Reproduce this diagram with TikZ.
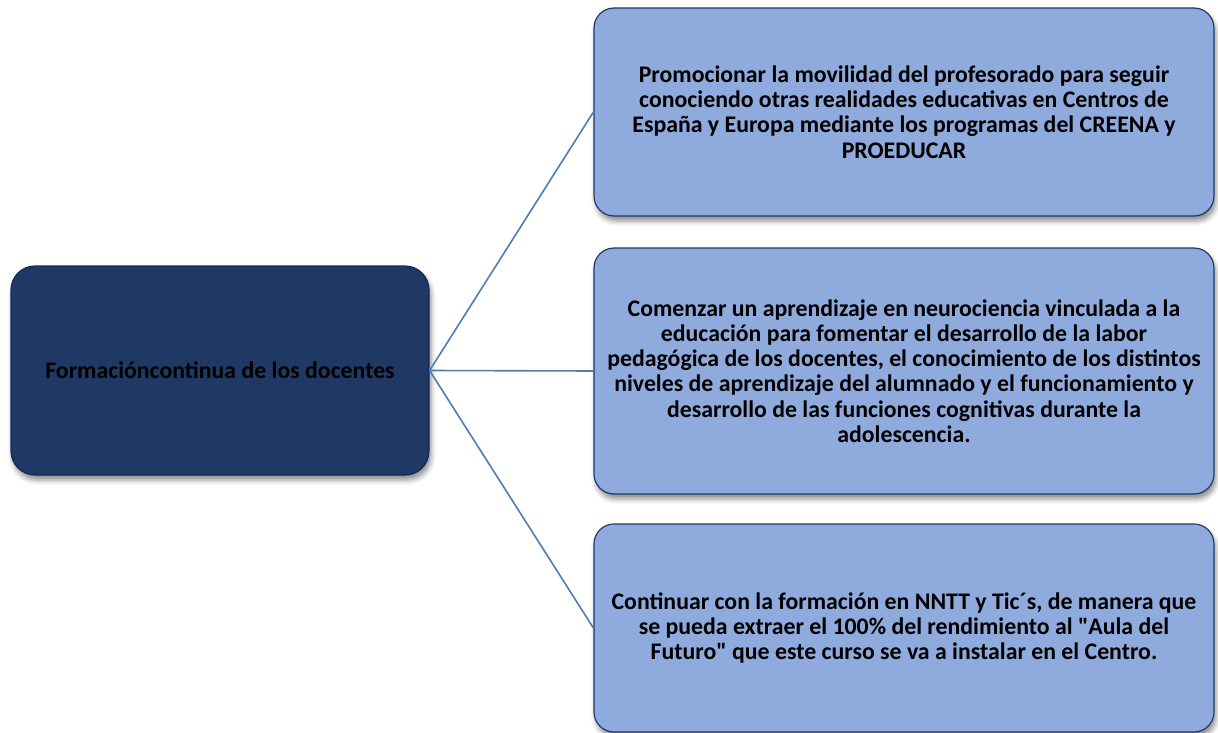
\documentclass[tikz,border=0pt]{standalone}
\usepackage{fontspec}
\setmainfont{Carlito}[Ligatures=TeXOff]
\usetikzlibrary{shadows.blur}
\definecolor{navy}{HTML}{203864}
\definecolor{navyedge}{HTML}{0F2A5A}
\definecolor{lightbox}{HTML}{8FAADC}
\definecolor{boxedge}{HTML}{1F3A6A}
\definecolor{conn}{HTML}{4A7EB5}
\tikzset{
  every node/.style={font=\bfseries\fontsize{23.8}{25.2}\selectfont, align=center, inner sep=0pt},
  mainbox/.style={draw=navyedge, line width=1.2pt, fill=navy, rounded corners=24pt,
    minimum width=418pt, minimum height=209pt,
    blur shadow={shadow xshift=2pt, shadow yshift=-5pt, shadow blur radius=5pt, shadow opacity=45}},
  subbox/.style={draw=boxedge, line width=1.2pt, fill=lightbox, rounded corners=20pt,
    minimum width=620pt,
    blur shadow={shadow xshift=2pt, shadow yshift=-5pt, shadow blur radius=5pt, shadow opacity=45}},
  link/.style={draw=conn, line width=1.6pt}
}
\begin{document}
\begin{tikzpicture}[x=1pt,y=1pt]
\useasboundingbox (0,0) rectangle (1218,-733);
\node[mainbox] (L) at (220,-370.5) {Formacióncontinua de los docentes};
\node[subbox, minimum height=208pt] (A) at (904,-112) {Promocionar la movilidad del profesorado para seguir\\conociendo otras realidades educativas en Centros de\\España y Europa mediante los programas del CREENA y\\PROEDUCAR};
\node[subbox, minimum height=246pt] (B) at (904,-371) {Comenzar un aprendizaje en neurociencia vinculada a la\\educación para fomentar el desarrollo de la labor\\pedagógica de los docentes, el conocimiento de los distintos\\niveles de aprendizaje del alumnado y el funcionamiento y\\desarrollo de las funciones cognitivas durante la\\adolescencia.};
\node[subbox, minimum height=208pt] (C) at (904,-628) {Continuar con la formación en NNTT y Tic´s, de manera que\\se pueda extraer el 100\% del rendimiento al "Aula del\\Futuro" que este curso se va a instalar en el Centro.};
\draw[link] (L.east) -- (A.west);
\draw[link] (L.east) -- (B.west);
\draw[link] (L.east) -- (C.west);
\end{tikzpicture}
\end{document}
